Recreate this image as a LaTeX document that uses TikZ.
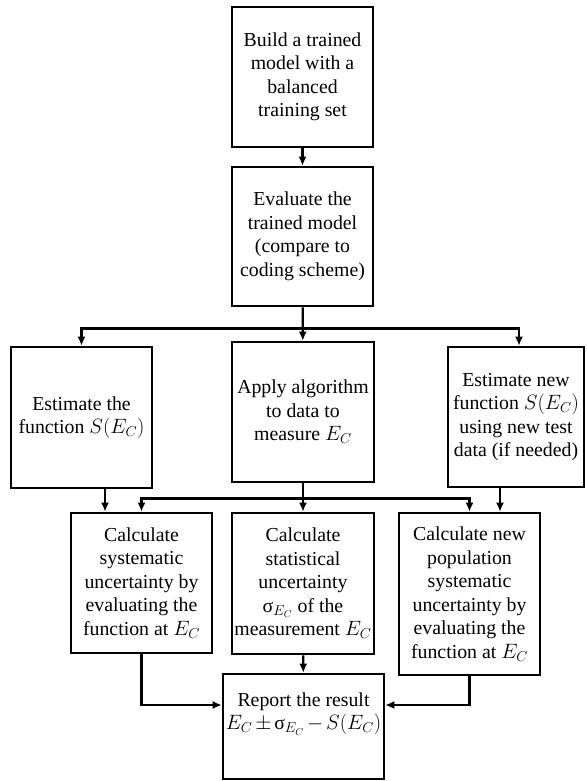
\documentclass[tikz,border=0pt]{standalone}
\usepackage{fontspec}
\setmainfont{Liberation Serif}
\usetikzlibrary{arrows.meta}
\tikzstyle{boite}  =[draw, line width=2.6pt, align=center, inner sep=0pt, font=\fontsize{19.8}{23.5}\selectfont]
\tikzstyle{fleche} =[line width=2.4pt, -{Latex[length=9pt,width=8pt]}]
\tikzstyle{trait}  =[line width=2.4pt]

\begin{document}
\begin{tikzpicture}[x=1pt,y=-1pt]
 \useasboundingbox (0,0) rectangle (586,781);
 % first column
 \node[boite, minimum width=141, minimum height=140] (build) at (302.5,77) {Build a trained\\ model with a\\ balanced\\ training set};
 \node[boite, minimum width=141, minimum height=139] (eval) at (302.5,236.5) {Evaluate the\\ trained model\\ (compare to\\ coding scheme)};
 % middle row
 \node[boite, minimum width=141, minimum height=141] (estim) at (81.5,417.5) {Estimate the\\ function $S(E_C)$};
 \node[boite, minimum width=142, minimum height=140] (apply) at (303,412) {Apply algorithm\\ to data to\\ measure $E_C$};
 \node[boite, minimum width=136, minimum height=140] (estnew) at (516,417) {Estimate new\\ function $S(E_C)$\\ using new test\\ data (if needed)};
 % bottom row
 \node[boite, minimum width=141, minimum height=140] (sys) at (141.5,583) {Calculate\\ systematic\\ uncertainty by\\ evaluating the\\ function at $E_C$};
 \node[boite, minimum width=142, minimum height=141] (stat) at (303,583.5) {Calculate\\ statistical\\ uncertainty\\ $\mbox{σ}_{E_C}$ of the\\ measurement $E_C$};
 \node[boite, minimum width=141, minimum height=162] (newsys) at (469.5,594) {Calculate new\\ population\\ systematic\\ uncertainty by\\ evaluating the\\ function at $E_C$};
 \node[boite, minimum width=161, minimum height=105] (report) at (303.5,726.5) {Report the result\\ {\medmuskip=2.5mu $E_C\pm\mbox{σ}_{E_C}-S(E_C)$}\\ \strut};
 % arrows
 \draw[fleche] (build) -- (eval);
 \draw[fleche] (eval) -- (apply);
 \draw[fleche] (eval.south) ++(0,21) -| (estim.north);
 \draw[fleche] (eval.south) ++(0,21) -| ([xshift=3pt]estnew.north);
 \draw[fleche] (apply) -- (stat);
 \draw[fleche] (apply.south) ++(0,15) -| (sys.north);
 \draw[fleche] (apply.south) ++(0,15) -| (newsys.north);
 \draw[fleche] ([xshift=23.5pt]estim.south) -- ([xshift=23.5pt]estim.south |- sys.north);
 \draw[fleche] ([xshift=-16pt]estnew.south) -- ([xshift=-16pt]estnew.south |- newsys.north);
 \draw[fleche] (stat) -- (report);
 \draw[fleche] (sys.south) |- ([yshift=21.5pt]report.west);
 \draw[fleche] (newsys.south) |- ([yshift=21.5pt]report.east);
\end{tikzpicture}
\end{document}
